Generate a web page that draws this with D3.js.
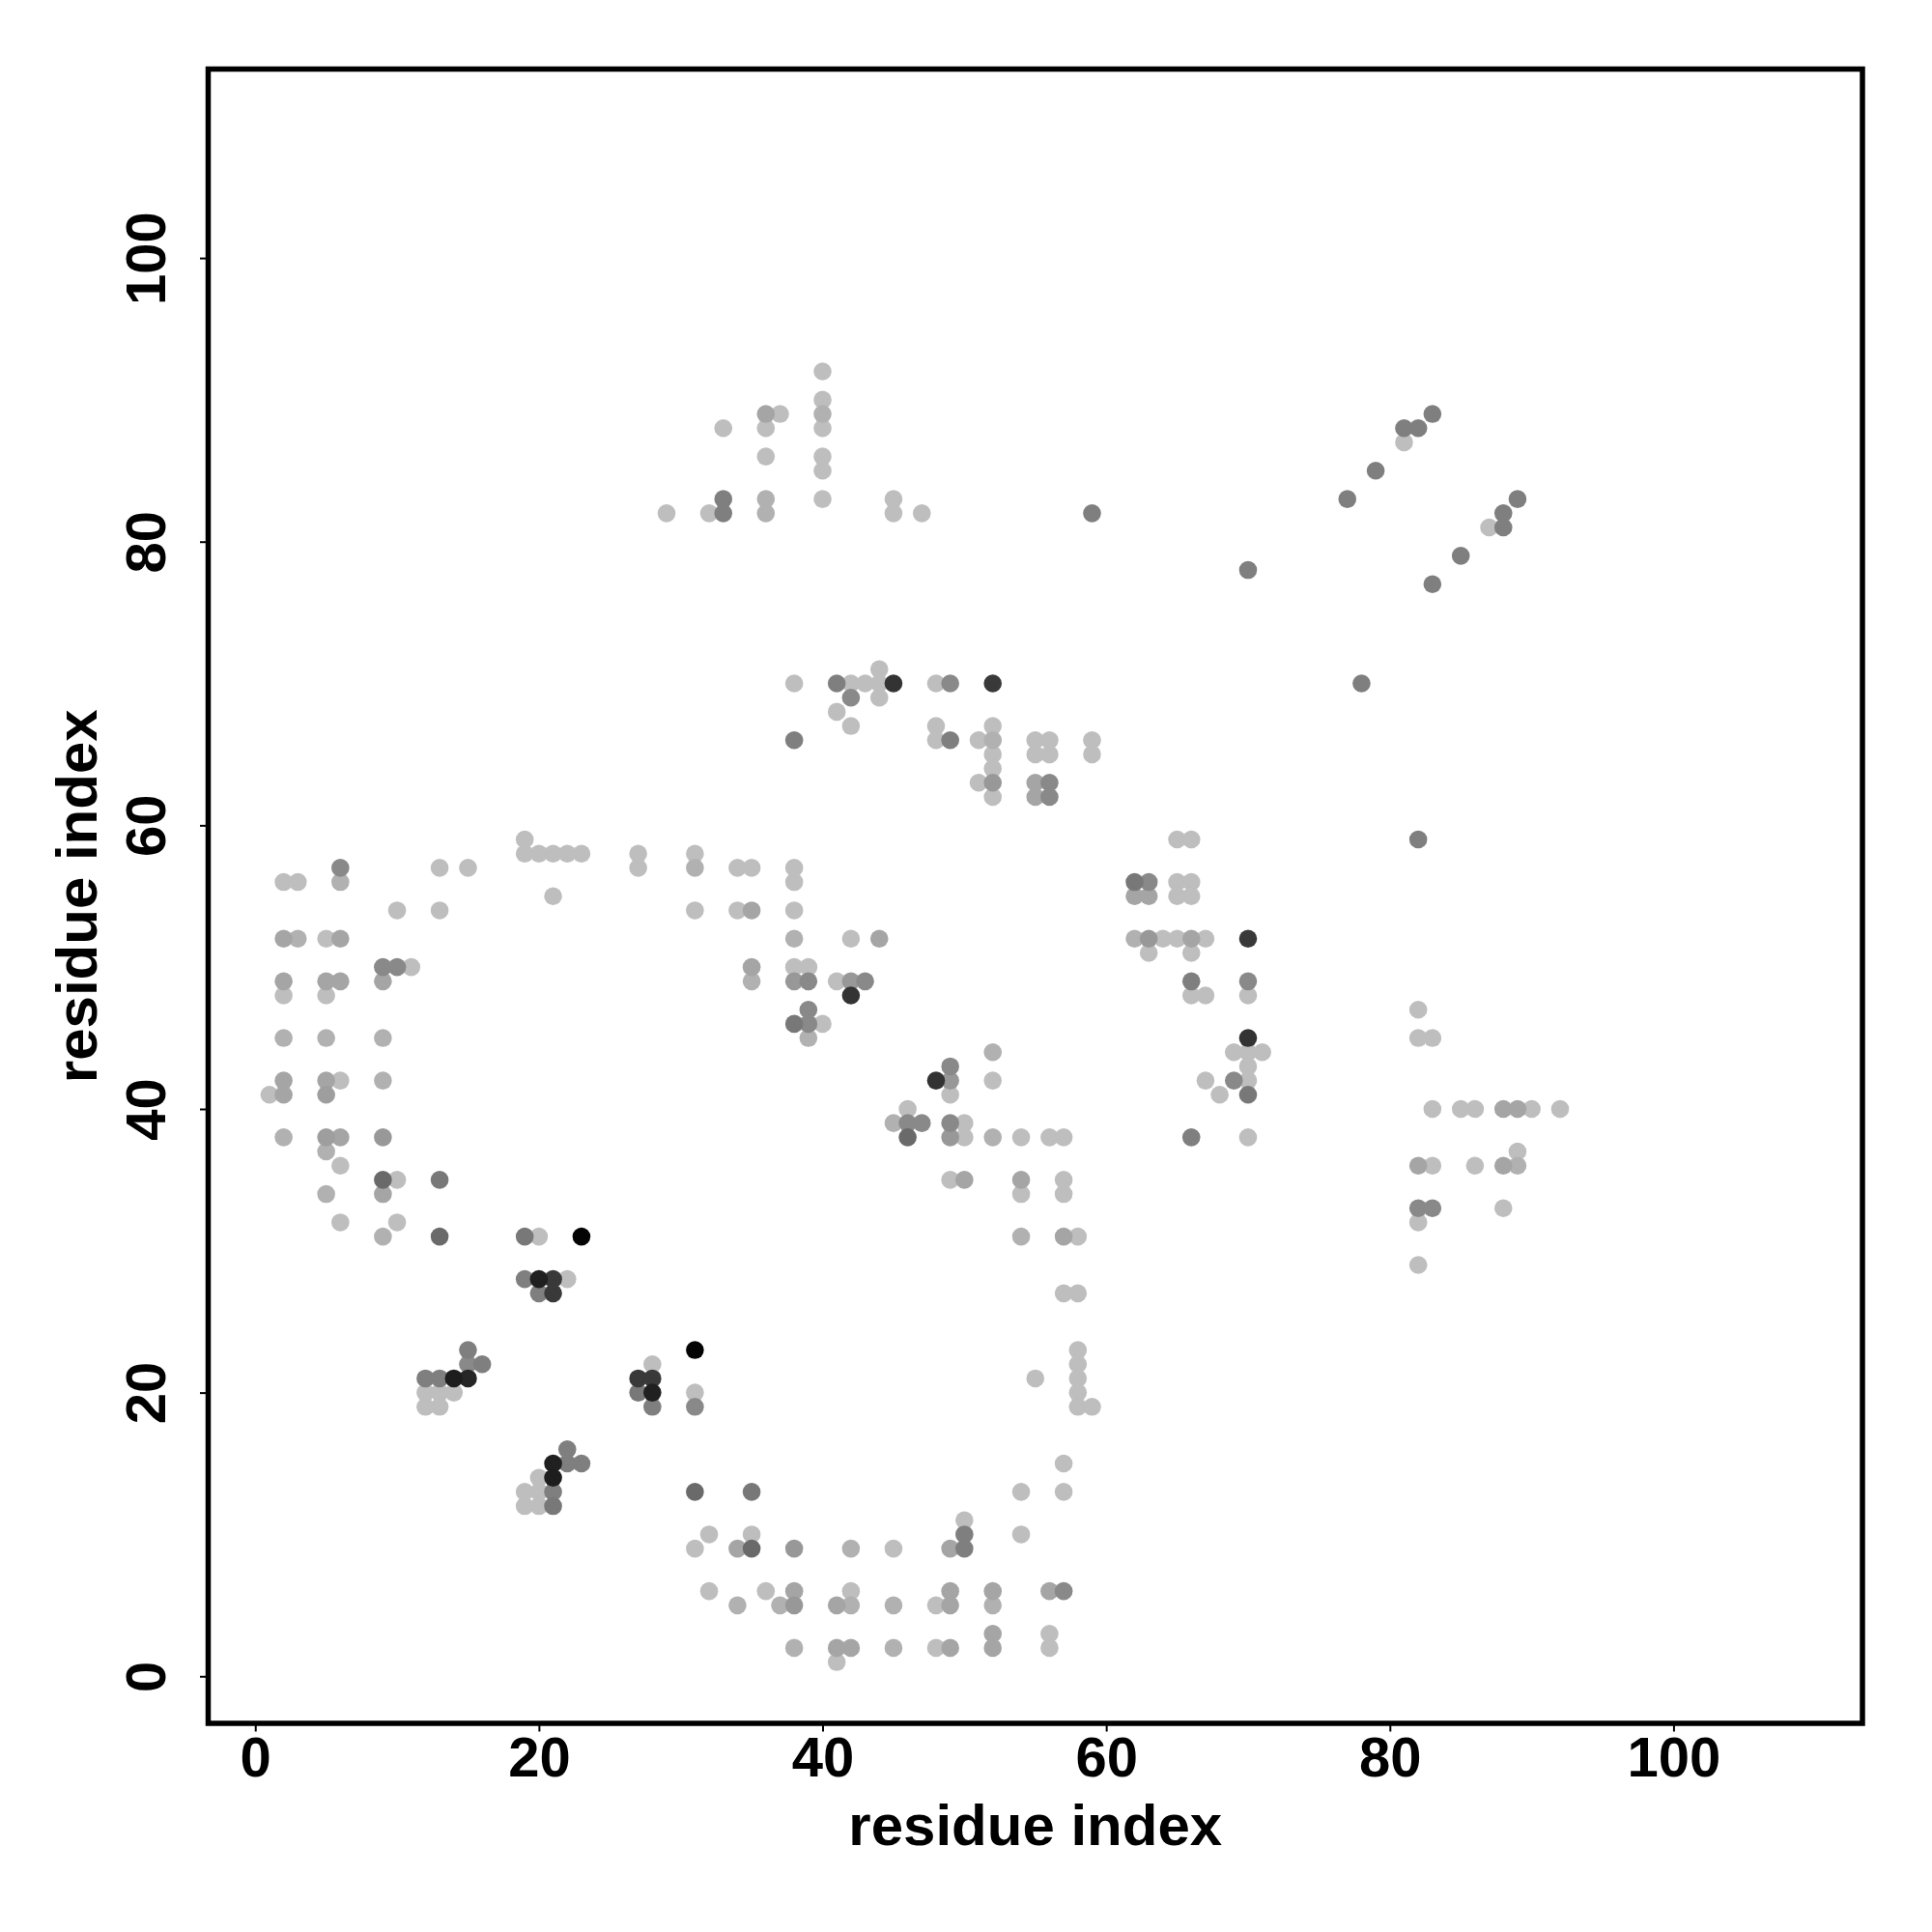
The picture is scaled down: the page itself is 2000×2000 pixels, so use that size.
<!DOCTYPE html>
<html>
<head>
<meta charset="utf-8">
<script src="https://cdn.jsdelivr.net/npm/d3@7"></script>
<style>
  html, body { margin: 0; padding: 0; background: #ffffff; }
  svg { display: block; }
  text { font-family: "Liberation Sans", Arial, Helvetica, sans-serif; font-weight: bold; fill: #000; }
</style>
</head>
<body>
<svg id="chart" width="2000" height="2000"></svg>
<script>
// ---- data: [residue i, residue j, contact score] ----
const topArm = [[29,82,0],[32,82,0],[33,88,0],[33,83,0.33],[33,82,0.33],[36,89,0.13],[37,89,0],[36,88,0],[36,86,0],[36,83,0.07],[36,82,0.07],[40,92,0],[40,90,0],[40,89,0.07],[40,88,0],[40,86,0],[40,85,0],[40,83,0],[45,83,0],[45,82,0],[47,82,0],[59,82,0.33]];
const topRight = [[83,89,0.33],[81,88,0.33],[82,88,0.33],[81,87,0],[79,85,0.33],[77,83,0.33],[89,83,0.33],[88,82,0.33],[88,81,0.33],[87,81,0],[85,79,0.33],[83,77,0.33],[70,78,0.33],[78,70,0.33],[82,59,0.33]];
const midBand = [[38,70,0],[41,70,0.33],[42,70,0],[43,70,0],[44,70,0],[44,71,0],[45,70,0.73],[48,70,0],[49,70,0.28],[52,70,0.7],[42,69,0.28],[44,69,0],[41,68,0],[42,67,0],[38,66,0.33],[48,67,0],[48,66,0],[49,66,0.33],[51,66,0],[52,67,0],[52,66,0.07],[52,65,0],[52,64,0],[52,63,0.2],[51,63,0],[52,62,0],[55,66,0],[56,66,0],[55,65,0],[56,65,0],[55,63,0.13],[56,63,0.28],[55,62,0.13],[56,62,0.28],[59,66,0],[59,65,0]];
const leftArc = [[19,59,0],[19,58,0],[20,58,0],[21,58,0],[22,58,0],[23,58,0],[27,58,0],[27,57,0],[31,58,0],[31,57,0.07],[21,55,0],[31,54,0],[13,57,0],[15,57,0],[10,54,0],[13,54,0],[6,57,0.28],[6,56,0.07],[2,56,0],[3,56,0],[2,52,0.13],[3,52,0.07],[5,52,0],[6,52,0.13],[9,50,0.28],[10,50,0.28],[11,50,0],[9,49,0.13],[2,49,0.13],[2,48,0],[5,49,0.13],[6,49,0.13],[5,48,0],[2,45,0.07],[5,45,0.07],[9,45,0.07],[2,42,0.13],[1,41,0],[2,41,0.13],[5,42,0.13],[6,42,0],[5,41,0.17],[9,42,0.07],[2,38,0.07],[5,38,0.17],[6,38,0.13],[5,37,0.07],[6,36,0],[9,38,0.2],[9,35,0.44],[10,35,0],[9,34,0.13],[5,34,0.07],[13,35,0.37],[6,32,0],[10,32,0],[9,31,0.07],[13,31,0.44],[19,31,0.37],[20,31,0],[23,31,0.98]];
const centre = [[34,57,0],[35,57,0],[38,57,0],[38,56,0],[34,54,0],[35,54,0.13],[38,54,0],[38,52,0.07],[42,52,0],[44,52,0.13],[35,50,0.13],[35,49,0.07],[38,50,0],[39,50,0],[38,49,0.2],[39,49,0.28],[41,49,0],[42,49,0.2],[43,49,0.28],[42,48,0.73],[39,47,0.28],[38,46,0.37],[39,46,0.28],[40,46,0],[39,45,0.07],[52,44,0.07],[49,43,0.28],[48,42,0.73],[49,42,0.2],[49,41,0],[52,42,0],[46,40,0],[45,39,0.07],[46,39,0.28],[47,39,0.28],[46,38,0.44],[49,39,0.28],[50,39,0],[49,38,0.2],[50,38,0],[52,38,0.07],[54,38,0],[56,38,0],[57,38,0],[49,35,0],[50,35,0.13],[54,35,0.13],[54,34,0],[57,35,0],[57,34,0],[54,31,0.07],[57,31,0.13],[58,31,0]];
const rightMid = [[62,56,0.37],[63,56,0.28],[62,55,0.13],[63,55,0.13],[65,59,0],[66,59,0],[65,56,0],[66,56,0],[65,55,0],[66,55,0],[62,52,0.07],[63,52,0.2],[64,52,0],[65,52,0],[66,52,0.13],[67,52,0],[63,51,0],[66,51,0],[66,49,0.33],[66,48,0],[67,48,0],[67,42,0],[66,38,0.33],[70,52,0.7],[70,49,0.28],[70,48,0],[70,45,0.73],[69,44,0],[70,44,0],[71,44,0],[70,43,0],[69,42,0.28],[70,42,0],[68,41,0],[70,41,0.37],[70,38,0]];
const farRight = [[82,47,0],[82,45,0],[83,45,0],[83,40,0],[85,40,0],[86,40,0],[88,40,0.13],[89,40,0.13],[90,40,0],[92,40,0],[89,37,0],[82,36,0.13],[83,36,0],[86,36,0],[88,36,0.13],[89,36,0.07],[82,33,0.28],[83,33,0.28],[88,33,0],[82,32,0],[82,29,0]];
const lowerLeft = [[19,28,0.33],[20,28,0.83],[21,28,0.7],[22,28,0],[20,27,0.33],[21,27,0.7],[31,23,0.98],[15,23,0.33],[15,22,0.28],[16,22,0.33],[12,21,0.33],[13,21,0.33],[14,21,0.85],[15,21,0.8],[12,20,0],[13,20,0],[14,20,0],[12,19,0],[13,19,0],[28,22,0],[27,21,0.7],[28,21,0.7],[27,20,0.37],[28,20,0.83],[28,19,0.33],[31,20,0],[31,19,0.28],[22,16,0.33],[21,15,0.83],[22,15,0.33],[23,15,0.33],[21,14,0.85],[20,14,0],[19,13,0],[20,13,0],[21,13,0.33],[19,12,0],[20,12,0],[21,12,0.37],[31,13,0.44],[32,10,0],[31,9,0],[32,6,0]];
const bottomBand = [[57,27,0],[58,27,0],[58,23,0],[58,22,0],[58,21,0],[58,20,0],[58,19,0],[59,19,0],[55,21,0],[57,15,0],[54,13,0],[57,13,0],[54,10,0],[35,13,0.37],[35,10,0],[34,9,0.13],[35,9,0.44],[38,9,0.2],[42,9,0.07],[45,9,0],[50,11,0],[50,10,0.33],[49,9,0.13],[50,9,0.33],[36,6,0],[34,5,0.07],[37,5,0.07],[38,6,0.13],[38,5,0.2],[41,5,0.13],[42,6,0],[42,5,0.07],[45,5,0.07],[48,5,0],[49,6,0.13],[49,5,0.13],[52,6,0.13],[52,5,0.07],[56,6,0.13],[57,6,0.28],[38,2,0.07],[41,2,0.13],[42,2,0.13],[41,1,0],[45,2,0.07],[48,2,0],[49,2,0.13],[52,3,0.13],[52,2,0.13],[56,3,0],[56,2,0]];

const xTicks = [0, 20, 40, 60, 80, 100];
const yTicks = [0, 20, 40, 60, 80, 100];
const axisLimits = [-3.32, 113.32];
const xTitle = "residue index";
const yTitle = "residue index";

// ---- layout ----
const plotL = 215.5, plotR = 1928, plotT = 71.5, plotB = 1784;
const svg = d3.select("#chart");
svg.append("rect").attr("width", 2000).attr("height", 2000).attr("fill", "#ffffff");

const x = d3.scaleLinear().domain(axisLimits).range([plotL, plotR]);
const y = d3.scaleLinear().domain(axisLimits).range([plotB, plotT]);
const grey = d3.scaleLinear().domain([0, 1]).range([190, 0]);

const points = [].concat(topArm, topRight, midBand, leftArc, centre, rightMid, farRight, lowerLeft, bottomBand)
  .slice().sort((a, b) => a[2] - b[2]);

svg.append("g")
  .selectAll("circle")
  .data(points)
  .join("circle")
  .attr("cx", d => x(d[0]))
  .attr("cy", d => y(d[1]))
  .attr("r", 9.3)
  .attr("fill", d => { const g = Math.round(grey(d[2])); return `rgb(${g},${g},${g})`; });

// axes
const fs = 58;
const gx = svg.append("g").attr("transform", `translate(0,${plotB})`)
  .call(d3.axisBottom(x).tickValues(xTicks).tickFormat(d3.format("d")).tickSize(8.5).tickPadding(5));
gx.select(".domain").remove();
gx.selectAll(".tick line").attr("stroke", "#000").attr("stroke-width", 2);
gx.selectAll(".tick text").attr("font-size", fs).attr("font-family", "Liberation Sans, Arial, sans-serif").attr("font-weight", "bold");

const gy = svg.append("g").attr("transform", `translate(${plotL},0)`)
  .call(d3.axisLeft(y).tickValues(yTicks).tickFormat(d3.format("d")).tickSize(8.5));
gy.select(".domain").remove();
gy.selectAll(".tick line").attr("stroke", "#000").attr("stroke-width", 2);
gy.selectAll(".tick text")
  .attr("x", null).attr("dy", null)
  .attr("text-anchor", "middle")
  .attr("transform", `translate(${171 - plotL},0) rotate(-90)`)
  .attr("font-size", fs).attr("font-family", "Liberation Sans, Arial, sans-serif").attr("font-weight", "bold");

// box
svg.append("rect")
  .attr("x", plotL).attr("y", plotT)
  .attr("width", plotR - plotL).attr("height", plotB - plotT)
  .attr("fill", "none").attr("stroke", "#000").attr("stroke-width", 5.5);

// titles
svg.append("text")
  .attr("x", (plotL + plotR) / 2).attr("y", 1910)
  .attr("text-anchor", "middle").attr("font-size", 60)
  .text(xTitle);
svg.append("text")
  .attr("transform", `translate(100,${(plotT + plotB) / 2}) rotate(-90)`)
  .attr("text-anchor", "middle").attr("font-size", 60)
  .text(yTitle);
</script>
</body>
</html>
